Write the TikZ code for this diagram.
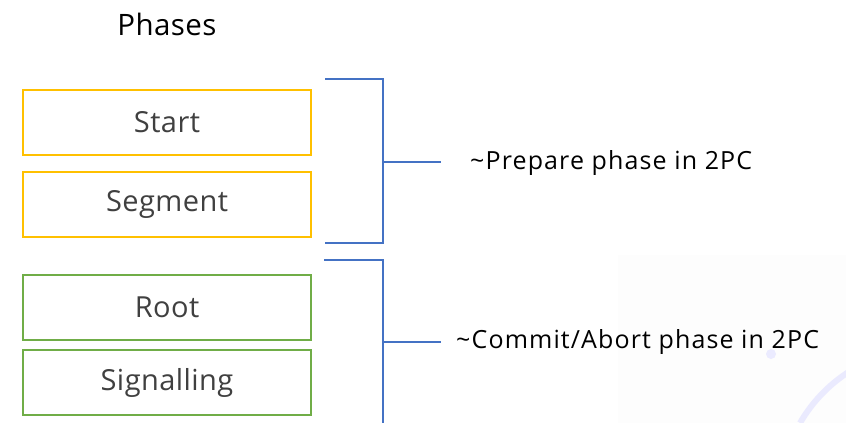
\documentclass[tikz,border=0pt]{standalone}
\usepackage{fontspec}
\setmainfont{Open Sans}[LetterSpace=1.5]
\newfontfamily\lblfont{Open Sans}[LetterSpace=4.5]
\definecolor{orangeb}{HTML}{FFC000}
\definecolor{greenb}{HTML}{70AD47}
\definecolor{blueb}{HTML}{4472C4}
\definecolor{txt}{HTML}{404040}
\begin{document}
\begin{tikzpicture}[x=1pt,y=-1pt,
  phasebox/.style={draw, line width=2pt, minimum width=288pt, minimum height=65pt, inner sep=0pt,
    font=\fontsize{29}{34}\selectfont, text=txt},
  brk/.style={draw=blueb, line width=1.4pt},
  lbl/.style={anchor=west, font=\lblfont\fontsize{25}{29}\selectfont, text=black, inner sep=0pt}]
\useasboundingbox (0,0) rectangle (846,423);
% faint background decoration
\fill[black!0.7] (618,255) rectangle (846,423);
\draw[blue!15, line width=6pt, opacity=0.5] (800,423) arc[start angle=210, end angle=240, radius=150];
\fill[blue!8] (771,354) circle (5pt);
% title
\node[font=\fontsize{29.5}{34}\selectfont, text=black] (title) at (167,24) {Phases};
% boxes
\node[phasebox, draw=orangeb] (start) at (167,122) {Start};
\node[phasebox, draw=orangeb] (segment) at (167,204.5) {Segment};
\node[phasebox, draw=greenb] (root) at (167,307.5) {Root};
\node[phasebox, draw=greenb] (signal) at (167,382.5) {Signalling};
% bracket 1
\coordinate (b1t) at (325,79);
\coordinate (b1tr) at (383,79);
\coordinate (b1b) at (325,243);
\coordinate (b1br) at (383,243);
\coordinate (b1m) at (383,162);
\coordinate (b1e) at (441,162);
\draw[brk] (b1t) -- (b1tr) -- (b1br) -- (b1b);
\draw[brk] (b1m) -- (b1e);
\node[lbl] (prep) at (470,163) {\textasciitilde Prepare phase in 2PC};
% bracket 2
\coordinate (b2t) at (324,260);
\coordinate (b2tr) at (383,260);
\coordinate (b2b) at (383,423);
\coordinate (b2m) at (383,342);
\coordinate (b2e) at (441,342);
\draw[brk] (b2t) -- (b2tr) -- (b2b);
\draw[brk] (b2m) -- (b2e);
\node[lbl] (commit) at (456,342) {\textasciitilde Commit/Abort phase in 2PC};
\end{tikzpicture}
\end{document}
